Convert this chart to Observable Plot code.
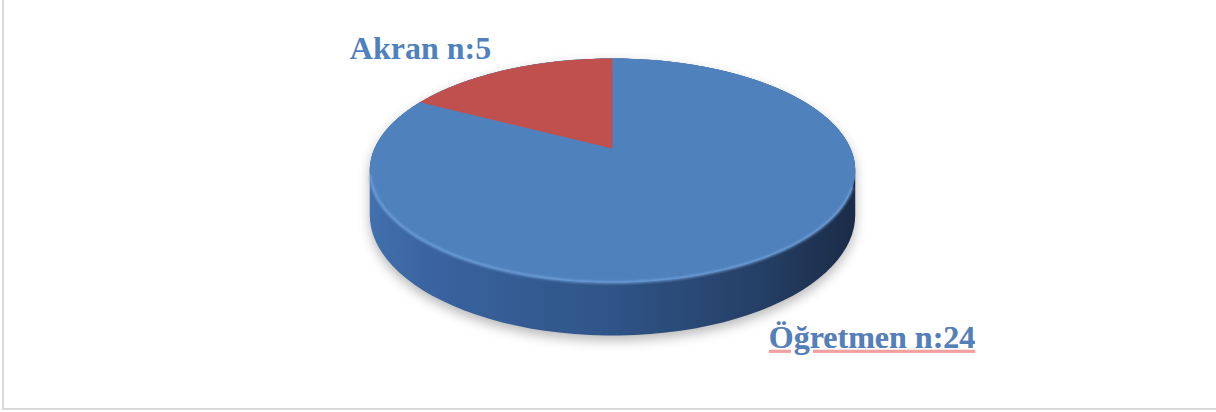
<!DOCTYPE html>
<html><head><meta charset="utf-8">
<script src="https://cdn.jsdelivr.net/npm/d3@7"></script>
<script src="https://cdn.jsdelivr.net/npm/@observablehq/plot@0.6"></script>
<style>
body{margin:0;background:#fff;}
#chart{width:1216px;height:412px;position:relative;overflow:hidden;}
#frame{position:absolute;left:2px;top:-4px;width:1220px;height:414px;border-left:2px solid #d9d9d9;border-bottom:2px solid #d9d9d9;box-sizing:border-box;pointer-events:none;}
</style></head><body>
<div id="chart"><div id="frame"></div></div>
<script>
// ---- data ----
const categories = ["Öğretmen", "Akran"];
const counts = [24, 5];
const labels = ["Öğretmen n:24", "Akran n:5"];

// ---- styles / layout ----
const sliceColors = ["#4f81bd", "#c0504d"];
const W = 1216, H = 412;
const CX = 612, CY = 148, RX = 238, RY = 107.7, K = 0.1965, DEPTH = 42.6;

function proj(phi, r = 1, drop = 0) {
  const a = r * Math.sin(phi), b = -r * Math.cos(phi);
  const w = 1 - K * b;
  return {x: CX + RX * a / w, y: CY + RY * b / w + drop / w};
}
function arcPts(a0, a1, drop = 0, n = 120) {
  const pts = [];
  const steps = Math.max(2, Math.ceil(n * Math.abs(a1 - a0) / (2 * Math.PI)));
  for (let i = 0; i <= steps; i++) pts.push(proj(a0 + (a1 - a0) * i / steps, 1, drop));
  return pts;
}

const arcs = d3.pie().sort(null).value(d => d)(counts);
const phiR = Math.acos(-K), phiL = 2 * Math.PI - Math.acos(-K);

const slab = [...arcPts(phiL, 2 * Math.PI + phiR, 0), ...arcPts(phiR, phiL, DEPTH)];
slab.push(slab[0]);
const topRim = arcPts(0, 2 * Math.PI, 0, 240);
const frontRim = arcPts(phiR + 0.15, phiL - 0.05, 0);
const slices = arcs.map((a, i) => [proj(0, 0), ...arcPts(a.startAngle, a.endAngle, 0, 240), proj(0, 0)]);
const labelPts = arcs.map((a, i) => ({...proj((a.startAngle + a.endAngle) / 2, 1), text: labels[i]}));

const xy = {x: "x", y: "y"};
const font = {fontSize: 32, fontWeight: "bold", fontFamily: "Liberation Serif, Times New Roman, serif", fill: "#4f81bd", textAnchor: "middle"};
const svg = Plot.plot({
  width: W, height: H, margin: 0,
  x: {domain: [0, W], range: [0, W], axis: null},
  y: {domain: [0, H], range: [0, H], axis: null},
  style: {background: "transparent"},
  marks: [
    Plot.line(slab, {...xy, fill: "#000000", fillOpacity: 0.28, stroke: "none", dy: 5}),
    Plot.line(slab, {...xy, fill: "#2f5487", stroke: "none"}),
    Plot.line(topRim, {...xy, fill: sliceColors[0], stroke: "none"}),
    ...slices.map((s, i) => Plot.line(s, {...xy, fill: sliceColors[i], stroke: "none"})),
    Plot.line(frontRim, {...xy, stroke: "#7eaee6", strokeWidth: 2.5, strokeOpacity: 0.7, fill: "none"}),
    Plot.text([labelPts[1]], {...xy, text: "text", dx: -87, dy: -21, ...font}),
    Plot.text([labelPts[0]], {...xy, text: "text", dx: 112, dy: 78, ...font, fill: "#f2a0a0"}),
    Plot.text([labelPts[0]], {...xy, text: "text", dx: 112, dy: 78, ...font})
  ]
});
svg.insertAdjacentHTML("afterbegin", `<defs>
<linearGradient id="sideGrad" gradientUnits="userSpaceOnUse" x1="${CX - 245}" y1="0" x2="${CX + 245}" y2="0">
<stop offset="0" stop-color="#4271ae"/><stop offset="0.12" stop-color="#3a64a0"/>
<stop offset="0.5" stop-color="#2f5487"/><stop offset="0.8" stop-color="#253f66"/>
<stop offset="1" stop-color="#1a2b46"/></linearGradient>
<filter id="blurShadow" x="-20%" y="-20%" width="140%" height="140%"><feGaussianBlur stdDeviation="6"/></filter>
<filter id="blurRim" x="-5%" y="-20%" width="110%" height="140%"><feGaussianBlur stdDeviation="1.2"/></filter>
</defs>`);
const groups = Array.from(svg.children).filter(el => el.tagName.toLowerCase() === "g");
const set = (i, fn) => { if (groups[i]) fn(groups[i]); };
set(0, g => g.setAttribute("filter", "url(#blurShadow)"));
set(1, g => { g.setAttribute("fill", "url(#sideGrad)"); g.querySelectorAll("path").forEach(p => p.setAttribute("fill", "url(#sideGrad)")); });
set(5, g => g.setAttribute("filter", "url(#blurRim)"));
set(7, g => { const t = g.querySelector("text"); if (t) { t.style.textDecoration = "underline"; t.style.textDecorationThickness = "1px"; t.style.textUnderlineOffset = "2px"; t.style.textDecorationSkipInk = "none"; } });
document.getElementById("chart").prepend(svg);
</script>
</body></html>
